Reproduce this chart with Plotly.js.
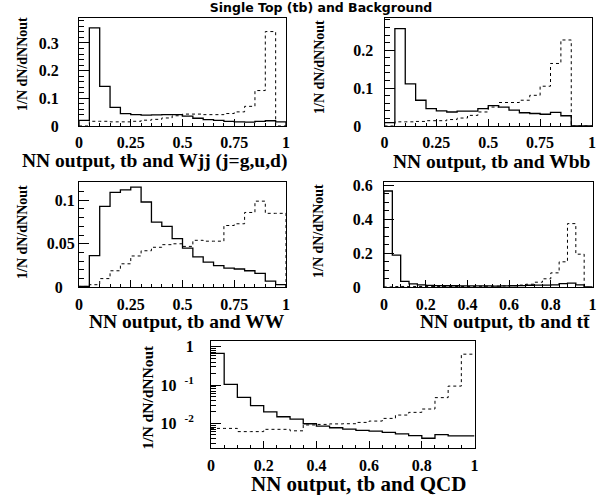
<!DOCTYPE html>
<html>
<head>
<meta charset="utf-8">
<script src="https://cdn.plot.ly/plotly-3.0.1.min.js"></script>
<style>
  html, body { margin: 0; padding: 0; background: #fff; }
  #plot { width: 597px; height: 495px; }
</style>
</head>
<body>
<div id="plot"></div>
<script>
// Normalised NN output distributions (1/N dN/dNNout).
// Dashed: single top tb signal; solid: the background it is trained against.

// tb vs Wjj (j=g,u,d), 20 bins on [0,1]
const wjjBkg = [0.020, 0.354, 0.143, 0.067, 0.045, 0.041, 0.039, 0.040, 0.041, 0.041,
                0.036, 0.028, 0.023, 0.020, 0.017, 0.015, 0.014, 0.017, 0.019, 0.015];
const wjjSig = [0.000, 0.017, 0.017, 0.015, 0.015, 0.017, 0.021, 0.024, 0.029, 0.037,
                0.043, 0.043, 0.041, 0.041, 0.045, 0.051, 0.071, 0.128, 0.341, 0.000];

// tb vs Wbb, 20 bins on [0,1]
const wbbBkg = [0.009, 0.257, 0.111, 0.068, 0.046, 0.040, 0.037, 0.039, 0.039, 0.046,
                0.054, 0.050, 0.042, 0.035, 0.033, 0.031, 0.036, 0.027, 0.000, 0.000];
const wbbSig = [0.000, 0.011, 0.011, 0.012, 0.014, 0.014, 0.017, 0.021, 0.028, 0.037,
                0.050, 0.062, 0.062, 0.068, 0.081, 0.105, 0.165, 0.227, 0.000, 0.000];

// tb vs WW, 20 bins on [0,1]
const wwBkg = [0.001, 0.0365, 0.093, 0.109, 0.112, 0.115, 0.098, 0.075, 0.070, 0.056,
               0.045, 0.035, 0.029, 0.025, 0.022, 0.021, 0.019, 0.016, 0.007, 0.003];
const wwSig = [0.001, 0.003, 0.010, 0.019, 0.027, 0.036, 0.042, 0.046, 0.049, 0.050,
               0.047, 0.054, 0.053, 0.053, 0.071, 0.073, 0.086, 0.099, 0.085, 0.085];

// tb vs ttbar, 25 bins on [0,1]
const ttBkg = [0.567, 0.190, 0.035, 0.020, 0.014, 0.011, 0.010, 0.009, 0.009, 0.008,
               0.008, 0.008, 0.008, 0.007, 0.008, 0.009, 0.010, 0.012, 0.013, 0.013,
               0.014, 0.022, 0.025, 0.014, 0.003];
const ttSig = [0.002, 0.004, 0.005, 0.005, 0.005, 0.005, 0.005, 0.005, 0.005, 0.005,
               0.005, 0.006, 0.006, 0.007, 0.008, 0.010, 0.013, 0.018, 0.030, 0.050,
               0.085, 0.150, 0.375, 0.195, 0.000];

// tb vs QCD, 20 bins on [0,1], log scale
const qcdBkg = [0.67, 0.104, 0.048, 0.029, 0.020, 0.0149, 0.0129, 0.0098, 0.0085, 0.0077,
                0.0071, 0.0066, 0.0063, 0.0058, 0.0053, 0.0048, 0.0041, 0.0051, 0.0047, 0.0047];
const qcdSig = [0.0074, 0.0074, 0.0061, 0.0061, 0.0070, 0.0070, 0.0064, 0.0091, 0.0094, 0.0097,
                0.0098, 0.0106, 0.0115, 0.0135, 0.0165, 0.0194, 0.0237, 0.047, 0.094, 0.64];

// axis tick labels and titles
const xTicksQuarter = [0, 0.25, 0.5, 0.75, 1];
const xTicksFifth = [0, 0.2, 0.4, 0.6, 0.8, 1];
const xTitles = ['NN output, tb and Wjj (j=g,u,d)', 'NN output, tb and Wbb',
                 'NN output, tb and WW', 'NN output, tb and t\u0074\u0304',
                 'NN output, tb and QCD'];
const yTitle = '1/N dN/dNNout';
const mainTitle = 'Single Top (tb) and Background';

// ---- helpers ---------------------------------------------------------
const W = 597, H = 495;
const px = v => v / W;          // pixel column -> paper x
const py = v => 1 - v / H;      // pixel row    -> paper y

// histogram outline (ROOT "hist" style) from bin contents
function outline(vals, logScale) {
  const n = vals.length, w = 1 / n;
  const x = [], y = [];
  if (!logScale) { x.push(0); y.push(0); }
  vals.forEach((v, i) => { x.push(i * w); y.push(v); });
  x.push(1); y.push(logScale ? vals[n - 1] : 0);
  return { x, y };
}

function histTrace(vals, ax, dashed, logScale) {
  const o = outline(vals, logScale);
  return {
    type: 'scatter', mode: 'lines', x: o.x, y: o.y,
    xaxis: 'x' + ax, yaxis: 'y' + ax,
    line: { shape: 'hv', color: '#000', width: dashed ? 1 : 1.3, dash: dashed ? '3px,3px' : 'solid' },
    hoverinfo: 'skip', showlegend: false
  };
}

const SERIF = 'Liberation Serif';
const tickFont = { family: SERIF, size: 16, color: '#000', weight: 'bold' };
const zeroPad = '0\u2008\u2007';

function xAxis(x0, x1, anchor, vals, minorStep) {
  return {
    domain: [px(x0), px(x1)], anchor: anchor, range: [0, 1],
    tickmode: 'array', tickvals: vals, ticktext: vals.map(v => String(v)),
    ticks: 'inside', ticklen: 7, tickwidth: 1, tickcolor: '#000',
    minor: { dtick: minorStep, tick0: 0, ticks: 'inside', ticklen: 3.5, tickwidth: 1, tickcolor: '#000', showgrid: false },
    showline: true, mirror: true, linecolor: '#000', linewidth: 1,
    showgrid: false, zeroline: false, tickfont: tickFont, ticklabelstandoff: 2,
    fixedrange: true
  };
}

function yAxis(yTop, yBot, anchor, range, vals, text, minorStep, standoff) {
  return {
    domain: [py(yBot), py(yTop)], anchor: anchor, range: range,
    tickmode: 'array', tickvals: vals, ticktext: text,
    ticks: 'inside', ticklen: 10, tickwidth: 1, tickcolor: '#000',
    minor: { dtick: minorStep, tick0: 0, ticks: 'inside', ticklen: 5, tickwidth: 1, tickcolor: '#000', showgrid: false },
    showline: true, mirror: true, linecolor: '#000', linewidth: 1,
    showgrid: false, zeroline: false, tickfont: tickFont, ticklabelstandoff: standoff,
    fixedrange: true
  };
}

// ---- traces ----------------------------------------------------------
const data = [
  histTrace(wjjSig, '', true), histTrace(wjjBkg, '', false),
  histTrace(wbbSig, '2', true), histTrace(wbbBkg, '2', false),
  histTrace(wwSig, '3', true), histTrace(wwBkg, '3', false),
  histTrace(ttSig, '4', true), histTrace(ttBkg, '4', false),
  histTrace(qcdSig, '5', true, true), histTrace(qcdBkg, '5', false, true)
];

// log-axis minor ticks at 2..9 x 10^n
const logMinor = [];
[0.001, 0.01, 0.1, 1].forEach(d => { for (let k = 2; k <= 9; k++) logMinor.push(k * d); });

// ---- layout ----------------------------------------------------------
const titleFont = { family: SERIF, size: 19.5, color: '#000', weight: 'bold' };
const yTitleFont = { family: SERIF, size: 14, color: '#000', weight: 'bold' };

function xTitleAnn(text, xRight, yMid, size) {
  return { text: text, xref: 'paper', yref: 'paper', x: px(xRight), y: py(yMid),
           xanchor: 'right', yanchor: 'middle', showarrow: false,
           font: Object.assign({}, titleFont, size ? { size: size } : {}) };
}
function yTitleAnn(xMid, yTop, size) {
  return { text: yTitle, xref: 'paper', yref: 'paper', x: px(xMid), y: py(yTop),
           xanchor: 'center', yanchor: 'top', textangle: -90, showarrow: false,
           font: Object.assign({}, yTitleFont, size ? { size: size } : {}) };
}

const layout = {
  width: W, height: H,
  margin: { l: 0, r: 0, t: 0, b: 0 },
  paper_bgcolor: '#fff', plot_bgcolor: '#fff',
  showlegend: false,
  title: { text: mainTitle, x: px(321), xanchor: 'center', y: py(8), yanchor: 'middle', xref: 'paper', yref: 'paper',
           font: { family: 'DejaVu Sans', size: 12.5, color: '#000', weight: 'bold' } },

  xaxis:  xAxis(79, 286, 'y', xTicksQuarter, 0.05),
  yaxis:  yAxis(18, 126, 'x', [0, 0.39], [0, 0.1, 0.2, 0.3], ['0', '0.1', '0.2', '0.3'], 0.02, 16),

  xaxis2: xAxis(384.5, 592, 'y2', xTicksQuarter, 0.05),
  yaxis2: yAxis(18, 126, 'x2', [0, 0.285], [0, 0.1, 0.2], [zeroPad, '0.1', '0.2'], 0.02, 7),

  xaxis3: xAxis(79, 286, 'y3', xTicksQuarter, 0.05),
  yaxis3: yAxis(182, 287.3, 'x3', [0, 0.121], [0, 0.05, 0.1], [zeroPad, '0.05', '0.1'], 0.01, 0),

  xaxis4: xAxis(384, 592.5, 'y4', xTicksFifth, 0.04),
  yaxis4: yAxis(182, 287.3, 'x4', [0, 0.62], [0, 0.2, 0.4, 0.6], [zeroPad, '0.2', '0.4', '0.6'], 0.05, 7),

  xaxis5: xAxis(211, 474.5, 'y5', xTicksFifth, 0.05),
  yaxis5: Object.assign(
    yAxis(341, 448.3, 'x5', [-2.65, 0.15], [0.01, 0.1, 1], ['10\u2002<sup>-2</sup>', '10\u2002<sup>-1</sup>', '1'], 0, 13),
    { type: 'log', minor: { tickmode: 'array', tickvals: logMinor, ticks: 'inside', ticklen: 5, tickwidth: 1, tickcolor: '#000', showgrid: false } }
  ),

  annotations: [
    xTitleAnn(xTitles[0], 289, 161),
    xTitleAnn(xTitles[1], 592.5, 161),
    xTitleAnn(xTitles[2], 287, 321),
    xTitleAnn(xTitles[3], 592, 321),
    xTitleAnn(xTitles[4], 468, 484, 21),
    yTitleAnn(23, 15),
    yTitleAnn(319, 18),
    yTitleAnn(23, 183),
    yTitleAnn(319, 182),
    yTitleAnn(147, 343, 15.5)
  ]
};

Plotly.newPlot('plot', data, layout, { staticPlot: true, displayModeBar: false });
</script>
</body>
</html>
